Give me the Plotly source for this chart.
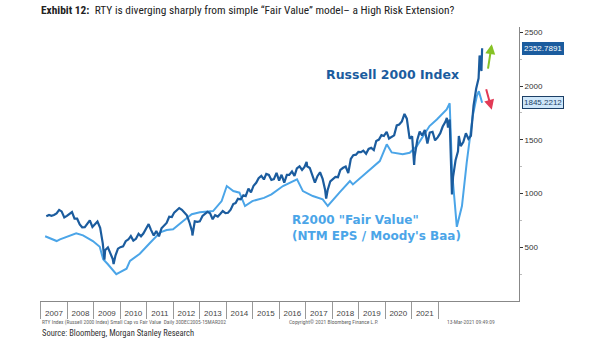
import plotly.graph_objects as go

# ---------------- data ----------------
rty_dates = [
    "2006-12-29",
    "2007-01-31","2007-02-28","2007-03-30","2007-04-30","2007-05-31","2007-06-29","2007-07-31","2007-08-31","2007-09-28","2007-10-31","2007-11-30","2007-12-31",
    "2008-01-31","2008-02-29","2008-03-31","2008-04-30","2008-05-30","2008-06-30","2008-07-31","2008-08-29","2008-09-30","2008-10-31","2008-11-20","2008-11-28","2008-12-31",
    "2009-01-30","2009-02-27","2009-03-09","2009-03-31","2009-04-30","2009-05-29","2009-06-30","2009-07-31","2009-08-31","2009-09-30","2009-10-30","2009-11-30","2009-12-31",
    "2010-01-29","2010-02-26","2010-03-31","2010-04-30","2010-05-28","2010-06-30","2010-07-30","2010-08-31","2010-09-30","2010-10-29","2010-11-30","2010-12-31",
    "2011-01-31","2011-02-28","2011-03-31","2011-04-29","2011-05-31","2011-06-30","2011-07-29","2011-08-31","2011-09-30","2011-10-03","2011-10-31","2011-11-30","2011-12-30",
    "2012-01-31","2012-02-29","2012-03-30","2012-04-30","2012-05-31","2012-06-29","2012-07-31","2012-08-31","2012-09-28","2012-10-31","2012-11-30","2012-12-31",
    "2013-01-31","2013-02-28","2013-03-28","2013-04-30","2013-05-31","2013-06-28","2013-07-31","2013-08-30","2013-09-30","2013-10-31","2013-11-29","2013-12-31",
    "2014-01-31","2014-02-28","2014-03-31","2014-04-30","2014-05-30","2014-06-30","2014-07-31","2014-08-29","2014-09-30","2014-10-31","2014-11-28","2014-12-31",
    "2015-01-30","2015-02-27","2015-03-31","2015-04-30","2015-05-29","2015-06-23","2015-06-30","2015-07-31","2015-08-31","2015-09-30","2015-10-30","2015-11-30","2015-12-31",
    "2016-01-29","2016-02-11","2016-02-29","2016-03-31","2016-04-29","2016-05-31","2016-06-30","2016-07-29","2016-08-31","2016-09-30","2016-10-31","2016-11-30","2016-12-30",
    "2017-01-31","2017-02-28","2017-03-31","2017-04-28","2017-05-31","2017-06-30","2017-07-31","2017-08-31","2017-09-29","2017-10-31","2017-11-30","2017-12-29",
    "2018-01-31","2018-02-28","2018-03-29","2018-04-30","2018-05-31","2018-06-29","2018-07-31","2018-08-31","2018-09-28","2018-10-31","2018-11-30","2018-12-24","2018-12-31",
    "2019-01-31","2019-02-28","2019-03-29","2019-04-30","2019-05-31","2019-06-28","2019-07-31","2019-08-30","2019-09-30","2019-10-31","2019-11-29","2019-12-31",
    "2020-01-17","2020-01-31","2020-02-20","2020-02-28","2020-03-18","2020-03-31","2020-04-30","2020-05-29","2020-06-08","2020-06-30","2020-07-31","2020-08-31","2020-09-30","2020-10-30","2020-11-30","2020-12-31",
    "2021-01-29","2021-02-10","2021-02-26","2021-03-04","2021-03-12",
]
rty_values = [
    788,
    800,793,800,815,848,834,777,792,806,828,767,766,
    713,686,687,714,751,689,714,740,680,537,385,473,499,
    443,390,343,423,487,501,508,557,572,604,562,579,625,
    602,628,678,716,662,610,651,602,676,703,727,784,
    781,823,843,865,849,827,797,726,644,610,741,737,741,
    792,810,830,817,761,798,786,812,837,818,821,849,
    902,911,951,947,984,977,1045,1010,1073,1100,1143,1164,
    1131,1183,1173,1126,1134,1193,1121,1175,1101,1173,1173,1205,
    1165,1233,1253,1220,1247,1295,1254,1238,1159,1101,1162,1198,1136,
    1036,953,1034,1114,1130,1154,1152,1220,1240,1252,1191,1322,1357,
    1362,1387,1386,1400,1370,1415,1425,1405,1490,1502,1544,1536,
    1575,1512,1530,1542,1634,1643,1671,1741,1697,1511,1533,1267,1349,
    1500,1576,1540,1591,1466,1567,1575,1495,1523,1562,1624,1668,
    1705,1614,1690,1476,991,1153,1310,1394,1536,1441,1480,1561,1508,1538,1819,1975,
    2073,2285,2201,2140,2352.7891,
]

fv_dates = [
    "2006-12-15","2007-05-01","2007-06-10","2007-12-20","2008-03-10","2008-07-05","2008-09-25","2008-11-05","2008-12-31",
    "2009-04-10","2009-05-20","2009-08-10","2009-09-20","2010-01-15","2010-05-15","2010-09-15","2010-12-01",
    "2011-02-15","2011-06-15","2011-09-25","2011-12-31","2012-06-05","2012-09-15","2012-11-15",
    "2013-02-01","2013-04-15","2013-06-20","2013-09-15","2014-02-01","2014-05-01","2014-09-15",
    "2015-01-15","2015-03-01","2015-05-10","2015-09-05","2016-01-01","2016-03-01","2016-07-20","2016-11-20","2016-12-25",
    "2017-04-20","2017-08-20","2017-11-10","2018-02-01","2018-04-01","2018-08-10","2018-11-01",
    "2019-01-25","2019-06-25","2019-09-20","2020-01-15","2020-02-20","2020-03-20","2020-05-15",
    "2020-07-15","2020-09-10","2020-10-15","2020-11-20","2021-01-08","2021-02-01","2021-03-12",
]
fv_values = [
    603,558,574,630,611,558,505,388,342,
    249,267,300,373,440,540,639,660,
    667,745,807,825,837,930,1070,
    1023,1008,884,930,960,993,1070,
    1116,1132,1023,977,946,884,1011,1116,1085,
    1163,1240,1302,1458,1383,1365,1380,
    1442,1628,1690,1783,1840,1200,690,
    884,1290,1504,1721,1907,1953,1845.2212,
]

year_labels = [str(y) for y in range(2007, 2022)]
y_ticks = [500, 1000, 1500, 2000, 2500]

rty_last = rty_values[-1]
fv_last = fv_values[-1]

# ---------------- styles ----------------
DARK = "#1b5c9e"
LIGHT = "#4ba5e8"
NARROW = "Liberation Sans Narrow, Roboto Condensed, Roboto, sans-serif"
LAB = "Verdana, DejaVu Sans, sans-serif"

fig = go.Figure()
fig.add_trace(go.Scatter(x=fv_dates, y=fv_values, mode="lines",
                         line=dict(color=LIGHT, width=2), showlegend=False, hoverinfo="skip"))
fig.add_trace(go.Scatter(x=rty_dates, y=rty_values, mode="lines",
                         line=dict(color=DARK, width=2.2), showlegend=False, hoverinfo="skip"))
# empty trace so that the year-label axis is drawn
fig.add_trace(go.Scatter(x=[], y=[], xaxis="x2", yaxis="y", mode="lines",
                         showlegend=False, hoverinfo="skip"))

fig.update_layout(
    width=605, height=341,
    margin=dict(l=40, r=86, t=27, b=40),
    paper_bgcolor="white", plot_bgcolor="white",
    font=dict(family="Liberation Sans, Arial, sans-serif", color="#333"),
    xaxis=dict(type="date", range=["2006-10-15", "2022-05-25"], showgrid=False,
               showticklabels=False, showline=False, zeroline=False, ticks=""),
    xaxis2=dict(overlaying="x", anchor="y", side="bottom", range=[-0.026, 18.056],
                tickmode="array", tickvals=[i + 0.5 for i in range(len(year_labels))],
                ticktext=year_labels, ticks="outside", ticklen=4, tickcolor="rgba(0,0,0,0)",
                tickfont=dict(size=8, color="#444", family="Liberation Sans, Arial"),
                showline=True, linecolor="#888", linewidth=1, showgrid=False, zeroline=False,
                minor=dict(tickmode="array", tickvals=list(range(len(year_labels) + 1)),
                           ticks="outside", ticklen=17, tickcolor="#999", tickwidth=1)),
    yaxis=dict(side="right", range=[0, 2550], tickvals=y_ticks, showgrid=False, zeroline=False,
               showline=True, linecolor="#888", linewidth=1, ticks="outside", ticklen=3,
               tickcolor="#333", tickfont=dict(size=8, color="#333", family="Liberation Sans, Arial"),
               minor=dict(tickvals=[250, 750, 1250, 1750, 2250], ticks="outside", ticklen=2, tickcolor="#bbb")),
)

ann = []
# title
ann.append(dict(xref="paper", yref="paper", x=-0.002, y=1.0, yshift=17, xanchor="left", yanchor="middle",
                text="<b>Exhibit 12:</b>  RTY is diverging sharply from simple \u201cFair Value\u201d model\u2013 a High Risk Extension?",
                showarrow=False, font=dict(size=11.4, family=NARROW, color="#222")))
# series labels
ann.append(dict(xref="paper", yref="y", x=0.593, y=2110, xanchor="left", yanchor="middle",
                text="<b>Russell 2000 Index</b>", showarrow=False,
                font=dict(size=12.5, family=LAB, color=DARK)))
ann.append(dict(xref="paper", yref="y", x=0.522, y=680, xanchor="left", yanchor="middle",
                text="<b>R2000 \"Fair Value\"<br>(NTM EPS / Moody's Baa)</b>", align="left", showarrow=False,
                font=dict(size=12, family=LAB, color=LIGHT)))
# last value tags
ann.append(dict(xref="paper", yref="y", x=1.0, y=rty_last, xanchor="left", yanchor="middle", xshift=3,
                text=f"{rty_last:.4f}", showarrow=False, bgcolor=DARK, bordercolor=DARK, borderpad=1,
                font=dict(size=8, color="white", family="Liberation Sans, Arial")))
ann.append(dict(xref="paper", yref="y", x=1.0, y=fv_last, xanchor="left", yanchor="middle", xshift=3,
                text=f"{fv_last:.4f}", showarrow=False, bgcolor="#cfe7fa", bordercolor="#1c3f66", borderpad=1,
                font=dict(size=8, color="#1c3f66", family="Liberation Sans, Arial")))
# arrows
ann.append(dict(xref="x", yref="y", x="2021-07-05", y=2390, ax=-4, ay=26, text="", showarrow=True,
                arrowhead=2, arrowsize=1, arrowwidth=2, arrowcolor="#86c225"))
ann.append(dict(xref="x", yref="y", x="2021-07-05", y=1780, ax=-6, ay=-22, text="", showarrow=True,
                arrowhead=2, arrowsize=1, arrowwidth=2, arrowcolor="#e23a55"))
# footer
ann.append(dict(xref="paper", yref="paper", x=0.0, y=0, yshift=-21, xanchor="left", yanchor="middle",
                text="RTY Index (Russell 2000 Index) Small Cap vs Fair Value  Daily 30DEC2005-15MAR202",
                showarrow=False, font=dict(size=5.5, color="#666", family=NARROW)))
ann.append(dict(xref="paper", yref="paper", x=0.516, y=0, yshift=-21, xanchor="left", yanchor="middle",
                text="Copyright\u00a9 2021 Bloomberg Finance L.P.", showarrow=False,
                font=dict(size=5.5, color="#666", family=NARROW)))
ann.append(dict(xref="paper", yref="paper", x=0.845, y=0, yshift=-21, xanchor="left", yanchor="middle",
                text="13-Mar-2021 09:49:09", showarrow=False,
                font=dict(size=5.5, color="#666", family=NARROW)))
ann.append(dict(xref="paper", yref="paper", x=0.0, y=0, yshift=-32, xanchor="left", yanchor="middle",
                text="Source: Bloomberg, Morgan Stanley Research", showarrow=False,
                font=dict(size=8.5, color="#333", family=NARROW)))
fig.update_layout(annotations=ann)

fig.write_html("out.html")
